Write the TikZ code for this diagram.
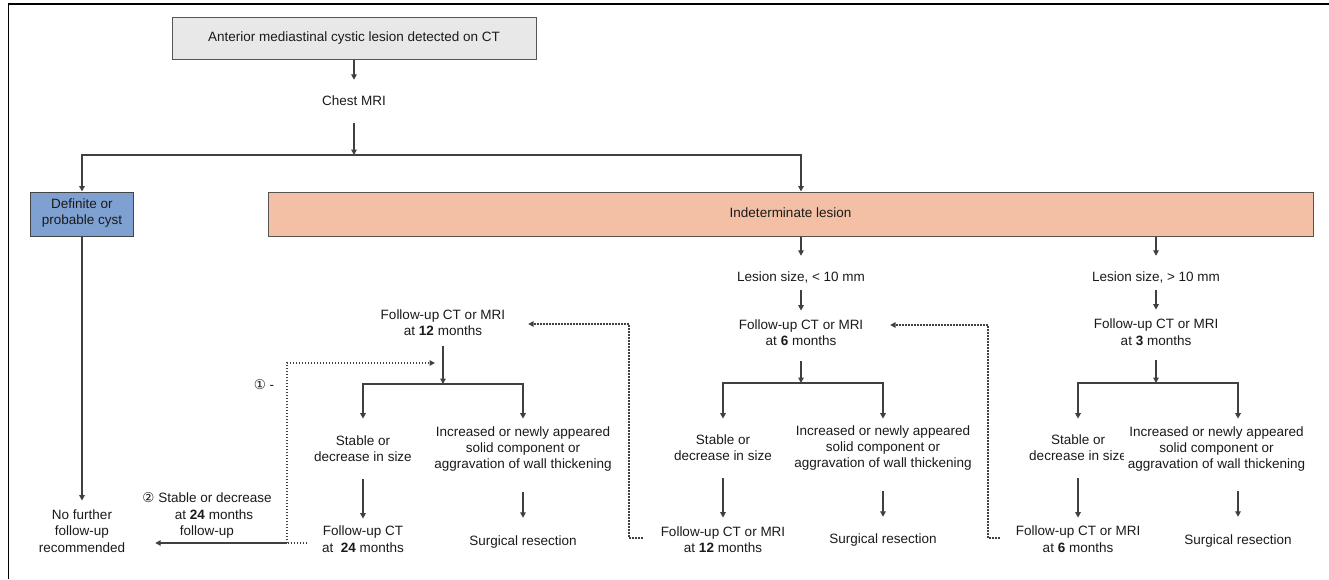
\documentclass[tikz,border=0pt]{standalone}
\usepackage{fontspec}
\setmainfont{Liberation Sans}
\newfontfamily\symfont{DejaVu Sans}
\usetikzlibrary{arrows.meta}
\definecolor{lnc}{HTML}{404040}
\definecolor{txc}{HTML}{1A1A1A}
\definecolor{grayfill}{HTML}{E8E8E8}
\definecolor{bluefill}{HTML}{7FA1D2}
\definecolor{orangefill}{HTML}{F4C0A5}
\definecolor{boxline}{HTML}{555555}
\tikzset{
  tx/.style={inner sep=0pt, align=center, text=txc,
    font=\fontsize{13.5}{16.3}\selectfont,
    execute at begin node=\strut, execute at end node=\strut},
  gbox/.style={tx, draw=boxline, fill=grayfill, line width=1pt},
  bbox/.style={tx, draw=boxline!80!black, fill=bluefill, line width=1pt},
  obox/.style={tx, draw=boxline, fill=orangefill, line width=1pt},
  arr/.style={draw=lnc, line width=1.6pt, -{Triangle[length=5.5pt,width=5.5pt]}},
  seg/.style={draw=lnc, line width=1.6pt},
  dotarr/.style={draw=lnc, line width=1.4pt, dash pattern=on 1.4pt off 1.6pt, -{Triangle[length=5.5pt,width=5.5pt]}},
  dotseg/.style={draw=lnc, line width=1.4pt, dash pattern=on 1.4pt off 1.6pt},
}
\begin{document}
\begin{tikzpicture}[x=1pt,y=-1pt]
\useasboundingbox (0,0) rectangle (1329,579);
% frame
\draw[line width=1.2pt, black] (8.3,579) -- (8.3,4) -- (1329,4);

% top part
\node[gbox, minimum width=364pt, minimum height=42pt] (top) at (354,38) {Anterior mediastinal cystic lesion detected on CT};
\node[tx] (mri) at (354,102) {Chest MRI};
\coordinate (j0) at (354,155);
\coordinate (jI) at (801,155);
\node[bbox, minimum width=103pt, minimum height=44pt] (cyst) at (82,214) {Definite or\\probable cyst};
\node[obox, minimum width=1045pt, minimum height=44pt] (indet) at (790.5,214) {Indeterminate lesion};
\node[tx] (nf) at (82,533.3) {No further\\follow-up\\recommended};

% middle column
\node[tx] (ls1) at (801,278) {Lesion size, < 10 mm};
\node[tx] (fu6) at (801,335) {Follow-up CT or MRI\\at \textbf{6} months};
\coordinate (jM) at (801,383);
\node[tx] (stM) at (723,450) {Stable or\\decrease in size};
\node[tx] (inM) at (883,449) {Increased or newly appeared\\solid component or\\aggravation of wall thickening};
\node[tx] (fuM) at (723,542) {Follow-up CT or MRI\\at \textbf{12} months};
\node[tx] (srM) at (883,540) {Surgical resection};

% right column
\node[tx] (ls2) at (1156,278) {Lesion size, > 10 mm};
\node[tx] (fu3) at (1156,334.5) {Follow-up CT or MRI\\at \textbf{3} months};
\coordinate (jR) at (1156,383);
\node[tx] (stR) at (1078,450) {Stable or\\decrease in size};
\node[tx, fill=white, inner xsep=4pt] (inR) at (1216.5,450) {Increased or newly appeared\\solid component or\\aggravation of wall thickening};
\node[tx] (fuR) at (1078,541.5) {Follow-up CT or MRI\\at \textbf{6} months};
\node[tx] (srR) at (1238,541) {Surgical resection};

% left column
\node[tx] (fuL) at (443,325) {Follow-up CT or MRI\\at \textbf{12} months};
\coordinate (jL) at (443,384);
\node[tx] (stL) at (363,451) {Stable or\\decrease in size};
\node[tx] (inL) at (523,450) {Increased or newly appeared\\solid component or\\aggravation of wall thickening};
\node[tx] (fu24) at (363,541.5) {Follow-up CT\\at \ \textbf{24} months};
\node[tx] (srL) at (523,542) {Surgical resection};

% labels
\node[tx] (lab1) at (264,386) {{\symfont ①} -};
\node[tx] (lab2) at (207,516.5) {{\symfont ②} Stable or decrease\\\hspace*{14pt}at \textbf{24} months\\follow-up};

% helper coordinates for dotted loops
\coordinate (dM) at (629,324);
\coordinate (dR) at (988,325);
\coordinate (lj) at (287,543);
\coordinate (lt) at (443,363);

% connectors: top
\draw[arr, shorten >=13.85pt] (top) -- (mri);
\draw[arr, shorten <=12.85pt] (mri) -- (j0);
\draw[arr] (j0) -| (cyst);
\draw[arr] (j0) -- (jI) -- (jI |- indet.north);
\draw[arr, shorten >=8.9pt] (cyst) -- (nf);

% middle column
\draw[arr, shorten >=13.85pt] (indet.south -| ls1) -- (ls1);
\draw[arr, shorten <=4pt, shorten >=8.7pt] (ls1) -- (fu6);
\draw[arr, shorten <=10.7pt] (fu6) -- (jM);
\draw[arr, shorten >=15.7pt] (jM) -| (stM);
\draw[arr, shorten >=6.5pt] (jM) -| (inM);
\draw[arr, shorten <=12.7pt, shorten >=8.7pt] (stM) -- (fuM);
\draw[arr, shorten <=18.5pt, shorten >=14.85pt] (inM) -- (srM);

% right column
\draw[arr, shorten >=13.85pt] (indet.south -| ls2) -- (ls2);
\draw[arr, shorten <=4pt, shorten >=9.2pt] (ls2) -- (fu3);
\draw[arr, shorten <=10.2pt] (fu3) -- (jR);
\draw[arr, shorten >=15.7pt] (jR) -| (stR);
\draw[arr, shorten >=7.55pt] (jR) -| (srR |- inR.north);
\draw[arr, shorten <=12.7pt, shorten >=8.2pt] (stR) -- (fuR);
\draw[arr, shorten <=17.5pt, shorten >=15.85pt] (srR |- inR.south) -- (srR);

% left column
\draw[arr, shorten <=5.7pt] (fuL) -- (jL);
\draw[arr, shorten >=16.7pt] (jL) -| (stL);
\draw[arr, shorten >=7.5pt] (jL) -| (inL);
\draw[arr, shorten <=12.7pt, shorten >=7.2pt] (stL) -- (fu24);
\draw[arr, shorten <=18.5pt, shorten >=15.85pt] (inL) -- (srL);

% dotted loops
\draw[dotarr, shorten >=22.7pt] ([xshift=-17.7pt,yshift=4pt]fuM.west) -| (dM) -- (dM -| fuL.east);
\draw[dotarr, shorten >=26.7pt] ([xshift=-15.7pt,yshift=3.5pt]fuR.west) -| (dR) -- (dR -| fu6.east);
\draw[dotseg] ([xshift=-15pt,yshift=-1.5pt]fu24.west) -- (lj);
\draw[arr, shorten >=29.9pt] (lj) -- (lj -| nf.east);
\draw[dotarr, shorten >=8pt] (lj) |- (lt);
\end{tikzpicture}
\end{document}
